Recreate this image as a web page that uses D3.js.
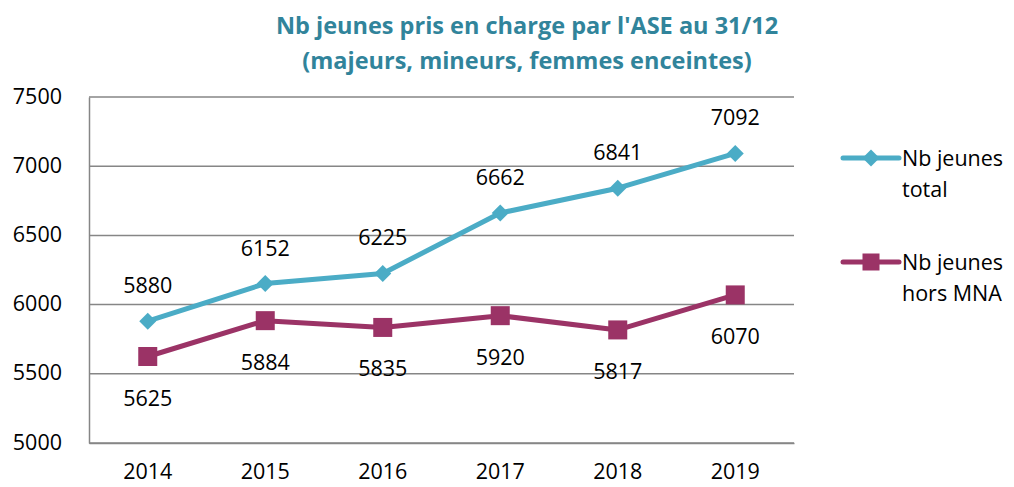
<!DOCTYPE html>
<html>
<head>
<meta charset="utf-8">
<script src="https://cdn.jsdelivr.net/npm/d3@7"></script>
<style>
  body { margin: 0; background: #fff; }
  text { font-family: "Open Sans", "Liberation Sans", sans-serif; }
</style>
</head>
<body>
<svg id="chart"></svg>
<script>
var years = ["2014", "2015", "2016", "2017", "2018", "2019"];
var totalValues = [5880, 6152, 6225, 6662, 6841, 7092];
var horsMnaValues = [5625, 5884, 5835, 5920, 5817, 6070];
var yTicks = [5000, 5500, 6000, 6500, 7000, 7500];

var width = 1014, height = 487;
var plot = { left: 89, right: 794, top: 97, bottom: 443 };
var fontSize = "21.5px";

var svg = d3.select("#chart")
    .attr("width", width)
    .attr("height", height);

var xScale = d3.scaleBand()
    .domain(years)
    .range([plot.left, plot.right]);

var yScale = d3.scaleLinear()
    .domain([5000, 7500])
    .range([plot.bottom, plot.top]);

// Title
svg.append("text")
    .attr("x", 527).attr("y", 34)
    .attr("text-anchor", "middle")
    .style("font-size", "23.5px").style("font-weight", "bold")
    .style("fill", "#31849B")
    .text("Nb jeunes pris en charge par l'ASE au 31/12");
svg.append("text")
    .attr("x", 527).attr("y", 69)
    .attr("text-anchor", "middle")
    .style("font-size", "23.5px").style("font-weight", "bold")
    .style("fill", "#31849B")
    .text("(majeurs, mineurs, femmes enceintes)");

// Grid
svg.append("g")
    .selectAll("line")
    .data(yTicks)
    .enter().append("line")
    .attr("x1", plot.left).attr("x2", plot.right)
    .attr("y1", function (d) { return yScale(d); })
    .attr("y2", function (d) { return yScale(d); })
    .attr("stroke", "#868686").attr("stroke-width", 1.5);

// Y axis
var yAxis = svg.append("g")
    .attr("transform", "translate(" + plot.left + ",0)")
    .call(d3.axisLeft(yScale).tickValues(yTicks).tickFormat(d3.format("d")).tickSize(0).tickPadding(27));
yAxis.select(".domain").attr("stroke", "#868686").attr("stroke-width", 1.5);
yAxis.selectAll("text")
    .style("font-size", fontSize).style("fill", "#000")
    .attr("dy", "0.28em");

// X axis
var xAxis = svg.append("g")
    .attr("transform", "translate(0," + plot.bottom + ")")
    .call(d3.axisBottom(xScale).tickSize(0).tickPadding(21));
xAxis.select(".domain").attr("stroke", "#868686").attr("stroke-width", 1.5);
xAxis.selectAll("text")
    .style("font-size", fontSize).style("fill", "#000");

var line = d3.line()
    .x(function (d, i) { return xScale(years[i]) + xScale.bandwidth() / 2; })
    .y(function (d) { return yScale(d); });

var blue = "#4BACC6", purple = "#9B3366";

// Series: total
svg.append("path")
    .datum(totalValues)
    .attr("fill", "none").attr("stroke", blue)
    .attr("stroke-width", 5).attr("stroke-linejoin", "round")
    .attr("d", line);
svg.selectAll(".diamond")
    .data(totalValues)
    .enter().append("rect")
    .attr("class", "diamond")
    .attr("width", 12).attr("height", 12)
    .attr("x", -6).attr("y", -6)
    .attr("fill", blue)
    .attr("transform", function (d, i) {
        return "translate(" + (xScale(years[i]) + xScale.bandwidth() / 2) + "," + yScale(d) + ") rotate(45)";
    });
svg.selectAll(".lbl-total")
    .data(totalValues)
    .enter().append("text")
    .attr("class", "lbl-total")
    .attr("x", function (d, i) { return xScale(years[i]) + xScale.bandwidth() / 2; })
    .attr("y", function (d) { return yScale(d) - 28; })
    .attr("text-anchor", "middle")
    .style("font-size", fontSize)
    .text(function (d) { return d; });

// Series: hors MNA
svg.append("path")
    .datum(horsMnaValues)
    .attr("fill", "none").attr("stroke", purple)
    .attr("stroke-width", 5).attr("stroke-linejoin", "round")
    .attr("d", line);
svg.selectAll(".square")
    .data(horsMnaValues)
    .enter().append("rect")
    .attr("class", "square")
    .attr("width", 19).attr("height", 19)
    .attr("x", function (d, i) { return xScale(years[i]) + xScale.bandwidth() / 2 - 9.5; })
    .attr("y", function (d) { return yScale(d) - 9.5; })
    .attr("fill", purple);
svg.selectAll(".lbl-mna")
    .data(horsMnaValues)
    .enter().append("text")
    .attr("class", "lbl-mna")
    .attr("x", function (d, i) { return xScale(years[i]) + xScale.bandwidth() / 2; })
    .attr("y", function (d) { return yScale(d) + 49; })
    .attr("text-anchor", "middle")
    .style("font-size", fontSize)
    .text(function (d) { return d; });

// Legend
var legend = [
    { label: ["Nb jeunes", "total"], color: blue, shape: "diamond", y: 158 },
    { label: ["Nb jeunes", "hors MNA"], color: purple, shape: "square", y: 262 }
];
var lg = svg.selectAll(".legend")
    .data(legend)
    .enter().append("g")
    .attr("class", "legend")
    .attr("transform", function (d) { return "translate(843," + d.y + ")"; });
lg.append("line")
    .attr("x1", 0).attr("x2", 56)
    .attr("stroke", function (d) { return d.color; })
    .attr("stroke-width", 5).attr("stroke-linecap", "round");
lg.filter(function (d) { return d.shape === "diamond"; })
    .append("rect")
    .attr("width", 12).attr("height", 12).attr("x", -6).attr("y", -6)
    .attr("fill", blue)
    .attr("transform", "translate(28,0) rotate(45)");
lg.filter(function (d) { return d.shape === "square"; })
    .append("rect")
    .attr("width", 17).attr("height", 17).attr("x", 19.5).attr("y", -8.5)
    .attr("fill", purple);
lg.each(function (d) {
    var t = d3.select(this).append("text")
        .attr("x", 59).attr("y", 8)
        .style("font-size", fontSize);
    t.append("tspan").attr("x", 59).attr("dy", 0).text(d.label[0]);
    t.append("tspan").attr("x", 59).attr("dy", 31).text(d.label[1]);
});
</script>
</body>
</html>
